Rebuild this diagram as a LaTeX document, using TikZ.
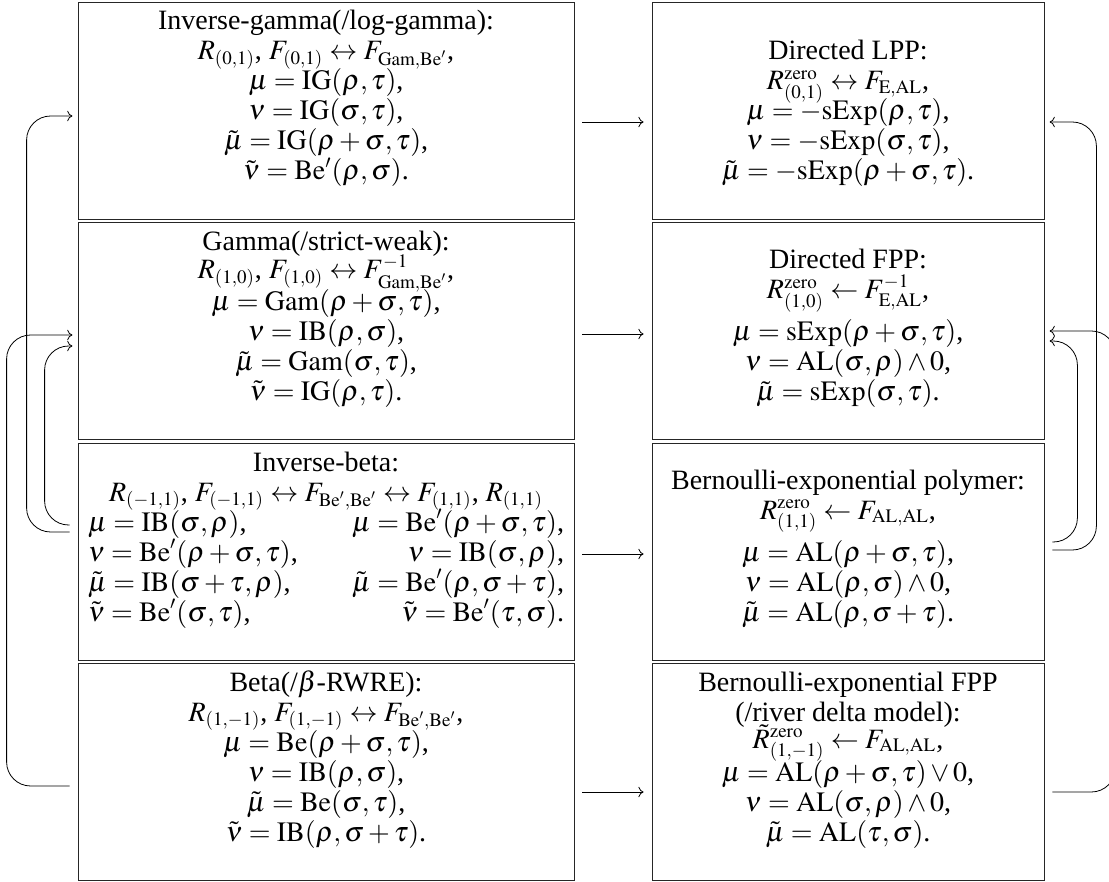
\documentclass[tikz,border=0pt]{standalone}
\usepackage{mathptmx}
\usepackage{fontspec}
\setmainfont{Liberation Serif}
\usetikzlibrary{arrows.meta}
\DeclareMathSizes{14}{14}{9.5}{7}
\newcommand{\lcell}[1]{\parbox[c][108.5pt][b]{248pt}{\fontsize{14}{15}\selectfont
  \lineskiplimit=-8pt\lineskip=0pt\centering #1\par\vspace*{16pt}}}
\newcommand{\rcell}[1]{\parbox[c][108.5pt][b]{196pt}{\fontsize{14}{15}\selectfont
  \lineskiplimit=-8pt\lineskip=0pt\centering #1\par\vspace*{16pt}}}
\newcommand{\twocol}[2]{\makebox[238pt]{#1\hfill#2}}
\everymath{\fontdimen16\textfont2=1.6pt\fontdimen17\textfont2=2.2pt}
\tikzset{
  card/.style={draw=black!85,line width=0.4pt,inner sep=0pt},
  flowarr/.style={-{Computer Modern Rightarrow[length=2.6pt,width=5.2pt]},
                  line width=0.4pt,shorten <=4pt,shorten >=4pt},
  looparr/.style={-{Computer Modern Rightarrow[length=2.6pt,width=5.2pt]},
                  line width=0.4pt,rounded corners=12pt,
                  shorten <=4pt,shorten >=2.6pt}
}
\begin{document}
\begin{tikzpicture}[x=0.5pt,y=-0.5pt]
    \useasboundingbox (0,0) rectangle (1109,882);

    \node[card] (ig) at (326,110.5) {\lcell{Inverse-gamma(/log-gamma):\\
      $R_{(0,1)}$, $F_{(0,1)}\leftrightarrow F_{\mathrm{Gam},\mathrm{Be}'}$,\\
      $\mu=\mathrm{IG}(\rho,\tau)$,\\
      $\nu=\mathrm{IG}(\sigma,\tau)$,\\
      $\tilde\mu=\mathrm{IG}(\rho+\sigma,\tau)$,\\
      $\tilde\nu=\mathrm{Be}'(\rho,\sigma)$.}};
    \node[card] (ga) at (326,331) {\lcell{Gamma(/strict-weak):\\[-1pt]
      $R_{(1,0)}$, $F_{(1,0)}\leftrightarrow F^{-1}_{\mathrm{Gam},\mathrm{Be}'}$,\\[1pt]
      $\mu=\mathrm{Gam}(\rho+\sigma,\tau)$,\\
      $\nu=\mathrm{IB}(\rho,\sigma)$,\\
      $\tilde\mu=\mathrm{Gam}(\sigma,\tau)$,\\
      $\tilde\nu=\mathrm{IG}(\rho,\tau)$.}};
    \node[card] (ib) at (326,551.5) {\lcell{Inverse-beta:\\
      $R_{(-1,1)}$, $F_{(-1,1)}\leftrightarrow F_{\mathrm{Be}',\mathrm{Be}'}
       \leftrightarrow F_{(1,1)}$, $R_{(1,1)}$\\
      \twocol{$\mu=\mathrm{IB}(\sigma,\rho)$,}{$\mu=\mathrm{Be}'(\rho+\sigma,\tau)$,}\\
      \twocol{$\nu=\mathrm{Be}'(\rho+\sigma,\tau)$,}{$\nu=\mathrm{IB}(\sigma,\rho)$,}\\
      \twocol{$\tilde\mu=\mathrm{IB}(\sigma+\tau,\rho)$,}{$\tilde\mu=\mathrm{Be}'(\rho,\sigma+\tau)$,}\\
      \twocol{$\tilde\nu=\mathrm{Be}'(\sigma,\tau)$,}{$\tilde\nu=\mathrm{Be}'(\tau,\sigma)$.}}};
    \node[card] (be) at (326,771.5) {\lcell{Beta(/$\beta$-RWRE):\\
      $R_{(1,-1)}$, $F_{(1,-1)}\leftrightarrow F_{\mathrm{Be}',\mathrm{Be}'}$,\\
      $\mu=\mathrm{Be}(\rho+\sigma,\tau)$,\\
      $\nu=\mathrm{IB}(\rho,\sigma)$,\\
      $\tilde\mu=\mathrm{Be}(\sigma,\tau)$,\\
      $\tilde\nu=\mathrm{IB}(\rho,\sigma+\tau)$.}};

    \node[card] (dlpp) at (848,110.5) {\rcell{Directed LPP:\\
      $R^{\mathrm{zero}}_{(0,1)}\leftrightarrow F_{\mathrm{E},\mathrm{AL}}$,\\
      $\mu=-\mathrm{sExp}(\rho,\tau)$,\\
      $\nu=-\mathrm{sExp}(\sigma,\tau)$,\\
      $\tilde\mu=-\mathrm{sExp}(\rho+\sigma,\tau)$.}};
    \node[card] (dfpp) at (848,331) {\rcell{Directed FPP:\\
      $R^{\mathrm{zero}}_{(1,0)}\leftarrow F^{-1}_{\mathrm{E},\mathrm{AL}}$,\\[6pt]
      $\mu=\mathrm{sExp}(\rho+\sigma,\tau)$,\\
      $\nu=\mathrm{AL}(\sigma,\rho)\wedge 0$,\\
      $\tilde\mu=\mathrm{sExp}(\sigma,\tau)$.}};
    \node[card] (bpoly) at (848,551.5) {\rcell{Bernoulli-exponential polymer:\\
      $R^{\mathrm{zero}}_{(1,1)}\leftarrow F_{\mathrm{AL},\mathrm{AL}}$,\\[6pt]
      $\mu=\mathrm{AL}(\rho+\sigma,\tau)$,\\
      $\nu=\mathrm{AL}(\rho,\sigma)\wedge 0$,\\
      $\tilde\mu=\mathrm{AL}(\rho,\sigma+\tau)$.}};
    \node[card] (bfpp) at (848,771.5) {\rcell{Bernoulli-exponential FPP\\
      (/river delta model):\\[-1.5pt]
      $\tilde R^{\mathrm{zero}}_{(1,-1)}\leftarrow F_{\mathrm{AL},\mathrm{AL}}$,\\[1.5pt]
      $\mu=\mathrm{AL}(\rho+\sigma,\tau)\vee 0$,\\
      $\nu=\mathrm{AL}(\sigma,\rho)\wedge 0$,\\
      $\tilde\mu=\mathrm{AL}(\tau,\sigma)$.}};

    \draw[flowarr] ([shift={(0,11.5)}]ig.east) -- ([shift={(0,11.5)}]dlpp.west);
    \draw[flowarr] ([shift={(0,3)}]ga.east) -- ([shift={(0,3)}]dfpp.west);
    \draw[flowarr] ([shift={(0,2.5)}]ib.east) -- ([shift={(0,2.5)}]bpoly.west);
    \draw[flowarr] ([shift={(0,20.5)}]be.east) -- ([shift={(0,20.5)}]bfpp.west);

    \draw[looparr] ([shift={(0,-19.5)}]ib.west) -- ++(-51,0) |- ([shift={(0,5.5)}]ig.west);
    \draw[looparr] ([shift={(0,-26.5)}]ib.west) -- ++(-33,0) |- ([shift={(0,15)}]ga.west);
    \draw[looparr] ([shift={(0,14.5)}]be.west) -- ++(-71,0) |- ([shift={(0,4)}]ga.west);

    \draw[looparr] ([shift={(0,-1.5)}]bpoly.east) -- ++(52,0) |- ([shift={(0,11.5)}]dlpp.east);
    \draw[looparr] ([shift={(0,-9.5)}]bpoly.east) -- ++(33,0) |- ([shift={(0,10)}]dfpp.east);
    \draw[looparr] ([shift={(0,20.5)}]bfpp.east) -- ++(71,0) |- ([shift={(0,0)}]dfpp.east);
  \end{tikzpicture}
\end{document}
